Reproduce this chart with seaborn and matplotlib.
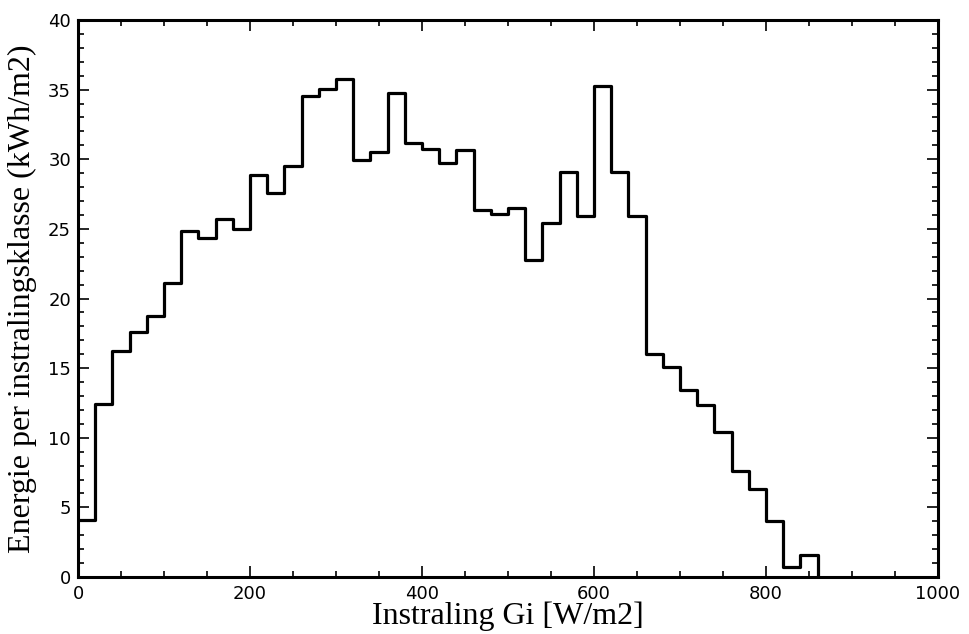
import numpy as np
import pandas as pd
import matplotlib
matplotlib.use("Agg")
import matplotlib.pyplot as plt
import seaborn as sns
from matplotlib.ticker import MultipleLocator

# Data: bin left edges (W/m2) and energy per class (kWh/m2)
bin_left = [0, 20, 40, 60, 80, 100, 120, 140, 160, 180, 200, 220, 240, 260, 280,
            300, 320, 340, 360, 380, 400, 420, 440, 460, 480, 500, 520, 540, 560,
            580, 600, 620, 640, 660, 680, 700, 720, 740, 760, 780, 800, 820, 840]
energy = [4.07, 12.41, 16.24, 17.58, 18.73, 21.12, 24.83, 24.35, 25.7, 25.0,
          28.86, 27.59, 29.5, 34.53, 35.06, 35.73, 29.93, 30.49, 34.73, 31.18,
          30.75, 29.74, 30.63, 26.39, 26.06, 26.49, 22.75, 25.43, 29.05, 25.91,
          35.27, 29.05, 25.93, 16.05, 15.09, 13.46, 12.33, 10.42, 7.62, 6.30,
          4.00, 0.72, 1.61]
bin_width = 20
x_label = "Instraling Gi [W/m2]"
y_label = "Energie per instralingsklasse (kWh/m2)"

# step outline: each value holds from its left edge to the next edge; close at the last edge
edges = list(bin_left) + [bin_left[-1] + bin_width]
df = pd.DataFrame({"Gi": edges, "E": list(energy) + [0.0]})

sns.set_style("white")
plt.rcParams["font.family"] = ["DejaVu Sans"]
plt.rcParams["text.color"] = "black"
plt.rcParams["axes.labelcolor"] = "black"

fig = plt.figure(figsize=(9.7, 6.34), dpi=100)
ax = fig.add_axes([78 / 970, 1 - 577 / 634, (938 - 78) / 970, (577 - 20) / 634])

sns.lineplot(data=df, x="Gi", y="E", drawstyle="steps-post", color="black",
             linewidth=2.3, estimator=None, sort=False, ax=ax)

ax.set_xlim(0, 1000)
ax.set_ylim(0, 40)
ax.xaxis.set_major_locator(MultipleLocator(200))
ax.xaxis.set_minor_locator(MultipleLocator(50))
ax.yaxis.set_major_locator(MultipleLocator(5))
ax.yaxis.set_minor_locator(MultipleLocator(1))
ax.tick_params(which="both", direction="in", top=True, right=True,
               bottom=True, left=True, width=1.2, colors="black",
               labelsize=13)
ax.tick_params(which="major", length=8)
ax.tick_params(which="minor", length=4)
ax.tick_params(axis="x", which="major", pad=6)
ax.tick_params(axis="y", which="major", pad=5)
for s in ax.spines.values():
    s.set_linewidth(2.2)
    s.set_color("black")
    s.set_visible(True)

ax.set_xlabel(x_label, fontsize=23, family="Liberation Serif", labelpad=-1)
ax.set_ylabel(y_label, fontsize=23, family="Liberation Serif", labelpad=8)

fig.savefig("out.png", dpi=100)
